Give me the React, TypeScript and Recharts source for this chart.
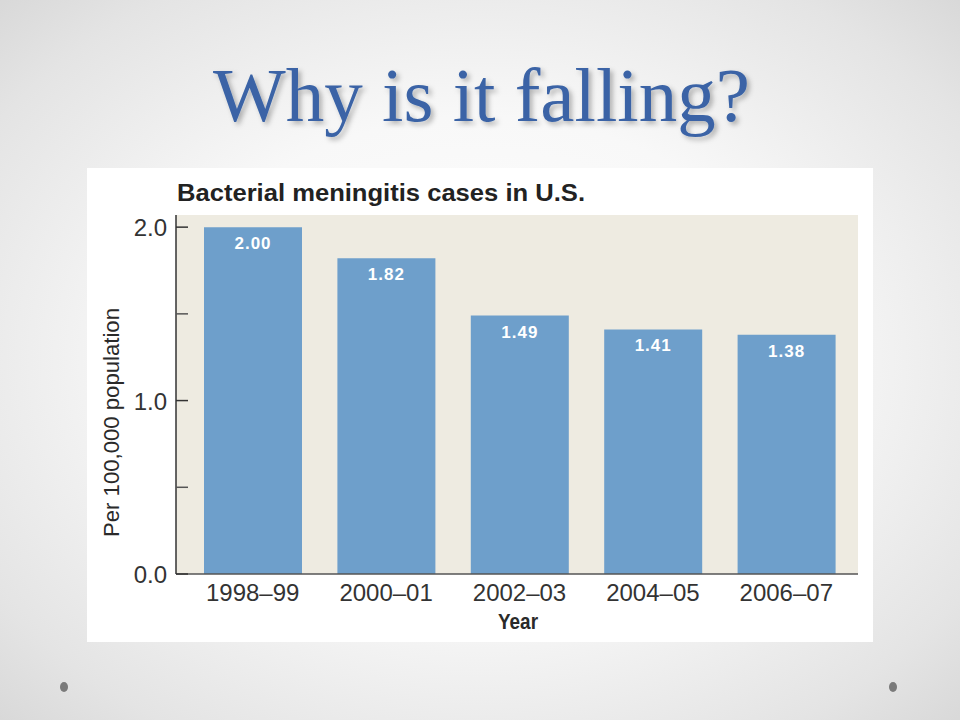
import React from 'react';
import { BarChart, Bar, XAxis, YAxis, CartesianGrid } from 'recharts';

const categories = ['1998–99', '2000–01', '2002–03', '2004–05', '2006–07'];
const values = [2.0, 1.82, 1.49, 1.41, 1.38];
const yTicks = [0, 0.5, 1, 1.5, 2];

const data = categories.map((c, i) => ({ year: c, rate: values[i] }));

const SANS = "'Liberation Sans', Arial, sans-serif";

const XTick = (props: any) => {
  const { x, y, payload } = props;
  return (
    <text x={x} y={y + 27} textAnchor="middle" fontSize={24} fontFamily={SANS} fill="#333">
      {payload.value}
    </text>
  );
};

const YTick = (props: any) => {
  const { x, y, payload } = props;
  const v = payload.value as number;
  const major = Number.isInteger(v);
  return (
    <g>
      <line x1={x} x2={x + 12} y1={y} y2={y} stroke={major ? '#333' : '#555'} strokeWidth={1.5} />
      {major && (
        <text x={x - 9} y={y + 9} textAnchor="end" fontSize={24} fontFamily={SANS} fill="#333">
          {v.toFixed(1)}
        </text>
      )}
    </g>
  );
};

const YLabel = (props: any) => {
  const vb = props.viewBox;
  const bx = vb.x + 3;
  const cy = vb.y + vb.height / 2 + 28;
  return (
    <text
      transform={`translate(${bx},${cy}) rotate(-90)`}
      textAnchor="middle"
      fontSize={22}
      fontFamily={SANS}
      fill="#2a2a2a"
      textLength={229}
      lengthAdjust="spacingAndGlyphs"
    >
      Per 100,000 population
    </text>
  );
};

const XLabel = (props: any) => {
  const vb = props.viewBox;
  return (
    <text
      x={vb.x + vb.width / 2 + 1}
      y={vb.y + 55}
      textAnchor="middle"
      fontSize={22}
      fontWeight="bold"
      fontFamily={SANS}
      fill="#2a2a2a"
      textLength={40}
      lengthAdjust="spacingAndGlyphs"
    >
      Year
    </text>
  );
};

const BarValue = (props: any) => {
  const { x, y, width, value } = props;
  return (
    <text
      x={x + width / 2}
      y={y + 22}
      textAnchor="middle"
      fontSize={17}
      fontWeight="bold"
      fontFamily={SANS}
      fill="#ffffff"
      letterSpacing={1}
    >
      {Number(value).toFixed(2)}
    </text>
  );
};

export default function App() {
  return (
    <div
      style={{
        position: 'absolute',
        left: 0,
        top: 0,
        width: 960,
        height: 720,
        overflow: 'hidden',
        background:
          'radial-gradient(ellipse 75% 75% at 50% 50%, #ffffff 0%, #f8f8f8 45%, #e4e4e4 80%, #d4d4d4 100%)',
      }}
    >
      <div
        style={{
          position: 'absolute',
          left: 87,
          top: 168,
          width: 786,
          height: 474,
          background: '#ffffff',
        }}
      >
        <BarChart
          width={786}
          height={474}
          data={data}
          margin={{ top: 47, right: 15, bottom: 38, left: 29 }}
        >
          <CartesianGrid horizontal={false} vertical={false} fill="#eeebe1" stroke="none" />
          <XAxis
            dataKey="year"
            height={30}
            padding={{ left: 10, right: 5 }}
            tickLine={false}
            tickSize={0}
            tickMargin={0}
            interval={0}
            axisLine={{ stroke: '#555', strokeWidth: 1.5 }}
            tick={XTick}
            label={{ content: XLabel }}
          />
          <YAxis
            width={60}
            domain={[0, 2.07]}
            ticks={yTicks}
            tickLine={false}
            tickSize={0}
            tickMargin={0}
            interval={0}
            axisLine={{ stroke: '#333', strokeWidth: 1.5 }}
            tick={YTick}
            label={{ content: YLabel }}
          />
          <Bar dataKey="rate" fill="#6e9fcb" barSize={98} isAnimationActive={false} label={BarValue} />
        </BarChart>
      </div>
      <svg
        width={960}
        height={720}
        style={{ position: 'absolute', left: 0, top: 0, pointerEvents: 'none' }}
      >
        <defs>
          <filter id="tshadow" x="-10%" y="-30%" width="120%" height="160%">
            <feDropShadow dx="3" dy="3" stdDeviation="2.5" floodColor="#000" floodOpacity="0.28" />
          </filter>
        </defs>
        <text
          x={213}
          y={121}
          fontFamily="'Liberation Serif', 'Times New Roman', serif"
          fontSize={76}
          fill="#3b64a6"
          textLength={537}
          lengthAdjust="spacingAndGlyphs"
          filter="url(#tshadow)"
        >
          Why is it falling?
        </text>
        <text
          x={177}
          y={201}
          fontFamily={SANS}
          fontSize={23}
          fontWeight="bold"
          fill="#222"
          textLength={408}
          lengthAdjust="spacingAndGlyphs"
        >
          Bacterial meningitis cases in U.S.
        </text>
        <ellipse cx={64} cy={687} rx={4} ry={5} fill="#7a7a7a" />
        <ellipse cx={893} cy={687} rx={4} ry={5} fill="#7a7a7a" />
      </svg>
    </div>
  );
}
